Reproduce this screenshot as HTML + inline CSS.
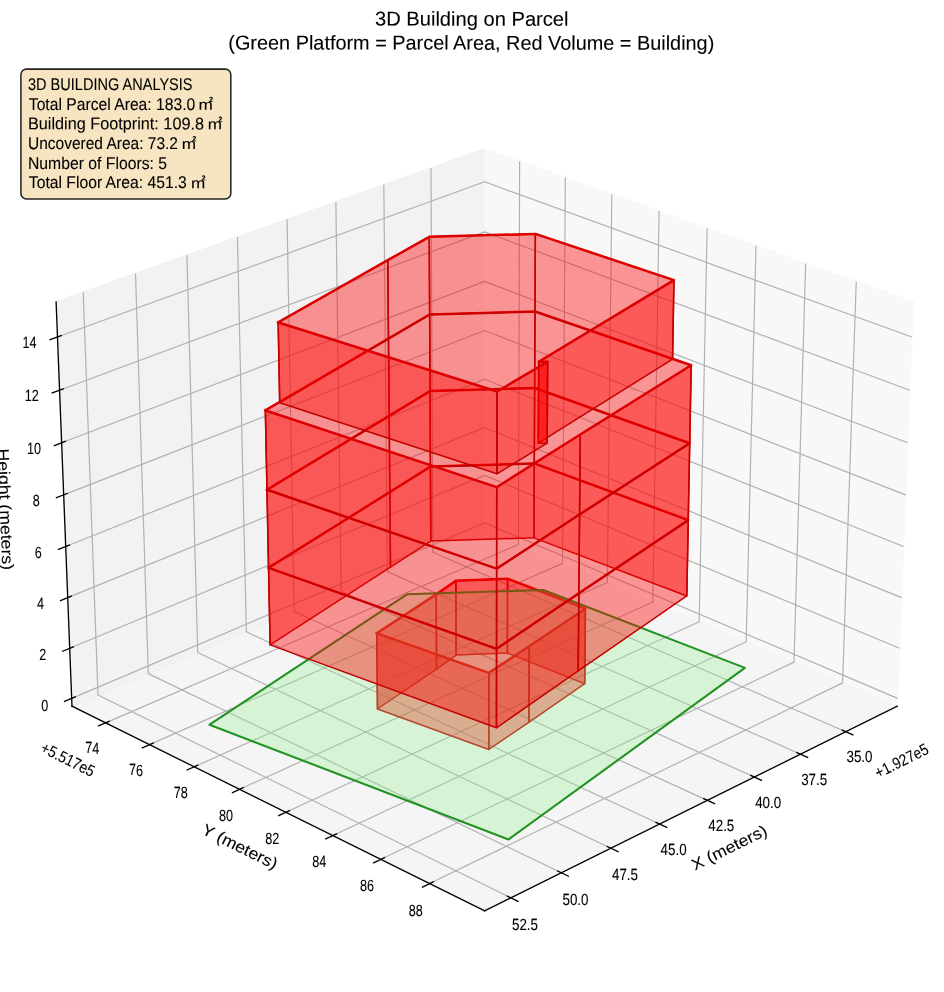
<!DOCTYPE html>
<html><head><meta charset="utf-8"><title>3D Building on Parcel</title>
<style>
html,body{margin:0;padding:0;background:#fff}
body{width:944px;height:992px;overflow:hidden;font-family:"Liberation Sans", sans-serif}
svg{display:block;position:absolute;left:0;top:0;will-change:transform}
text{font-family:"Liberation Sans", sans-serif;fill:#000;stroke:#000;stroke-width:0.1px}
</style></head><body>
<svg width="944" height="992" viewBox="0 0 944 992">
<g id="chart" transform="translate(-265.85,-85.65) scale(1.6666667)">
 <defs>
<style type="text/css">*{stroke-linejoin: round; stroke-linecap: butt}</style>
</defs>
<g id="figure_1">
<g id="pane3d_1">
<g id="patch_3">
<path d="M 450.291 369.473 L 697.885 475.112 L 707.407 232.527 L 450.291 140.621 " style="fill: #f2f2f2; opacity: 0.5; stroke: #f2f2f2; stroke-linejoin: miter"/>
</g>
</g>
<g id="pane3d_2">
<g id="patch_4">
<path d="M 450.291 369.473 L 202.698 475.112 L 193.175 232.527 L 450.291 140.621 " style="fill: #e6e6e6; opacity: 0.5; stroke: #e6e6e6; stroke-linejoin: miter"/>
</g>
</g>
<g id="pane3d_3">
<g id="patch_5">
<path d="M 450.291 369.473 L 202.698 475.112 L 450.291 597.851 L 697.885 475.112 " style="fill: #ececec; opacity: 0.5; stroke: #ececec; stroke-linejoin: miter"/>
</g>
</g>
<g id="grid3d_1">
<g id="Line3DCollection_1">
<path d="M 666.978 490.433 L 419.232 382.725 L 418.113 152.123 " style="fill: none; stroke: #b0b0b0; stroke-width: 0.7"/>
<path d="M 639.782 503.915 L 391.937 394.370 L 389.817 162.237 " style="fill: none; stroke: #b0b0b0; stroke-width: 0.7"/>
<path d="M 612.102 517.637 L 364.193 406.208 L 361.037 172.525 " style="fill: none; stroke: #b0b0b0; stroke-width: 0.7"/>
<path d="M 583.926 531.604 L 335.986 418.243 L 331.761 182.989 " style="fill: none; stroke: #b0b0b0; stroke-width: 0.7"/>
<path d="M 555.241 545.824 L 307.307 430.479 L 301.976 193.636 " style="fill: none; stroke: #b0b0b0; stroke-width: 0.7"/>
<path d="M 526.032 560.304 L 278.143 442.922 L 271.668 204.469 " style="fill: none; stroke: #b0b0b0; stroke-width: 0.7"/>
<path d="M 496.286 575.050 L 248.482 455.577 L 240.824 215.495 " style="fill: none; stroke: #b0b0b0; stroke-width: 0.7"/>
<path d="M 465.987 590.070 L 218.310 468.450 L 209.429 226.717 " style="fill: none; stroke: #b0b0b0; stroke-width: 0.7"/>
</g>
</g>
<g id="grid3d_2">
<g id="Line3DCollection_2">
<path d="M 471.293 148.128 L 470.564 378.123 L 222.866 485.110 " style="fill: none; stroke: #b0b0b0; stroke-width: 0.7"/>
<path d="M 498.717 157.931 L 497.025 389.412 L 249.218 498.173 " style="fill: none; stroke: #b0b0b0; stroke-width: 0.7"/>
<path d="M 526.597 167.896 L 523.909 400.883 L 276.025 511.462 " style="fill: none; stroke: #b0b0b0; stroke-width: 0.7"/>
<path d="M 554.944 178.029 L 551.228 412.539 L 303.299 524.982 " style="fill: none; stroke: #b0b0b0; stroke-width: 0.7"/>
<path d="M 583.771 188.333 L 578.993 424.385 L 331.051 538.740 " style="fill: none; stroke: #b0b0b0; stroke-width: 0.7"/>
<path d="M 613.089 198.813 L 607.213 436.426 L 359.296 552.742 " style="fill: none; stroke: #b0b0b0; stroke-width: 0.7"/>
<path d="M 642.911 209.472 L 635.901 448.666 L 388.046 566.994 " style="fill: none; stroke: #b0b0b0; stroke-width: 0.7"/>
<path d="M 673.250 220.317 L 665.069 461.110 L 417.314 581.503 " style="fill: none; stroke: #b0b0b0; stroke-width: 0.7"/>
</g>
</g>
<g id="grid3d_3">
<g id="Line3DCollection_3">
<path d="M 202.514 470.436 L 450.291 365.051 L 698.069 470.436 " style="fill: none; stroke: #b0b0b0; stroke-width: 0.7"/>
<path d="M 201.333 440.348 L 450.291 336.602 L 699.250 440.348 " style="fill: none; stroke: #b0b0b0; stroke-width: 0.7"/>
<path d="M 200.141 409.972 L 450.291 307.901 L 700.442 409.972 " style="fill: none; stroke: #b0b0b0; stroke-width: 0.7"/>
<path d="M 198.937 379.303 L 450.291 278.942 L 701.646 379.303 " style="fill: none; stroke: #b0b0b0; stroke-width: 0.7"/>
<path d="M 197.721 348.338 L 450.291 249.724 L 702.861 348.338 " style="fill: none; stroke: #b0b0b0; stroke-width: 0.7"/>
<path d="M 196.494 317.072 L 450.291 220.241 L 704.089 317.072 " style="fill: none; stroke: #b0b0b0; stroke-width: 0.7"/>
<path d="M 195.255 285.501 L 450.291 190.492 L 705.328 285.501 " style="fill: none; stroke: #b0b0b0; stroke-width: 0.7"/>
<path d="M 194.003 253.619 L 450.291 160.471 L 706.580 253.619 " style="fill: none; stroke: #b0b0b0; stroke-width: 0.7"/>
</g>
</g>
<g id="axis3d_1">
<g id="line2d_1">
<path d="M 697.885 475.112 L 450.291 597.851 " style="fill: none; stroke: #000000; stroke-width: 0.8; stroke-linecap: square"/>
</g>
<g id="xtick_1">
<g id="line2d_2">
<path d="M 664.848 489.507 L 671.247 492.289 " style="fill: none; stroke: #000000; stroke-width: 0.8; stroke-linecap: square"/>
</g>
</g>
<g id="xtick_2">
<g id="line2d_3">
<path d="M 637.649 502.973 L 644.055 505.804 " style="fill: none; stroke: #000000; stroke-width: 0.8; stroke-linecap: square"/>
</g>
</g>
<g id="xtick_3">
<g id="line2d_4">
<path d="M 609.967 516.677 L 616.379 519.559 " style="fill: none; stroke: #000000; stroke-width: 0.8; stroke-linecap: square"/>
</g>
</g>
<g id="xtick_4">
<g id="line2d_5">
<path d="M 581.790 530.628 L 588.207 533.561 " style="fill: none; stroke: #000000; stroke-width: 0.8; stroke-linecap: square"/>
</g>
</g>
<g id="xtick_5">
<g id="line2d_6">
<path d="M 553.103 544.830 L 559.524 547.817 " style="fill: none; stroke: #000000; stroke-width: 0.8; stroke-linecap: square"/>
</g>
</g>
<g id="xtick_6">
<g id="line2d_7">
<path d="M 523.894 559.291 L 530.318 562.333 " style="fill: none; stroke: #000000; stroke-width: 0.8; stroke-linecap: square"/>
</g>
</g>
<g id="xtick_7">
<g id="line2d_8">
<path d="M 494.147 574.019 L 500.573 577.117 " style="fill: none; stroke: #000000; stroke-width: 0.8; stroke-linecap: square"/>
</g>
</g>
<g id="xtick_8">
<g id="line2d_9">
<path d="M 463.847 589.020 L 470.274 592.176 " style="fill: none; stroke: #000000; stroke-width: 0.8; stroke-linecap: square"/>
</g>
</g>
</g>
<g id="axis3d_2">
<g id="line2d_10">
<path d="M 202.698 475.112 L 450.291 597.851 " style="fill: none; stroke: #000000; stroke-width: 0.8; stroke-linecap: square"/>
</g>
<g id="xtick_9">
<g id="line2d_11">
<path d="M 224.996 484.190 L 218.599 486.953 " style="fill: none; stroke: #000000; stroke-width: 0.8; stroke-linecap: square"/>
</g>
</g>
<g id="xtick_10">
<g id="line2d_12">
<path d="M 251.350 497.238 L 244.947 500.048 " style="fill: none; stroke: #000000; stroke-width: 0.8; stroke-linecap: square"/>
</g>
</g>
<g id="xtick_11">
<g id="line2d_13">
<path d="M 278.159 510.510 L 271.750 513.369 " style="fill: none; stroke: #000000; stroke-width: 0.8; stroke-linecap: square"/>
</g>
</g>
<g id="xtick_12">
<g id="line2d_14">
<path d="M 305.434 524.014 L 299.020 526.923 " style="fill: none; stroke: #000000; stroke-width: 0.8; stroke-linecap: square"/>
</g>
</g>
<g id="xtick_13">
<g id="line2d_15">
<path d="M 333.188 537.755 L 326.770 540.715 " style="fill: none; stroke: #000000; stroke-width: 0.8; stroke-linecap: square"/>
</g>
</g>
<g id="xtick_14">
<g id="line2d_16">
<path d="M 361.434 551.739 L 355.012 554.752 " style="fill: none; stroke: #000000; stroke-width: 0.8; stroke-linecap: square"/>
</g>
</g>
<g id="xtick_15">
<g id="line2d_17">
<path d="M 390.185 565.973 L 383.760 569.040 " style="fill: none; stroke: #000000; stroke-width: 0.8; stroke-linecap: square"/>
</g>
</g>
<g id="xtick_16">
<g id="line2d_18">
<path d="M 419.454 580.464 L 413.027 583.587 " style="fill: none; stroke: #000000; stroke-width: 0.8; stroke-linecap: square"/>
</g>
</g>
</g>
<g id="axis3d_3">
<g id="line2d_19">
<path d="M 202.698 475.112 L 193.175 232.527 " style="fill: none; stroke: #000000; stroke-width: 0.8; stroke-linecap: square"/>
</g>
<g id="xtick_17">
<g id="line2d_20">
<path d="M 204.644 469.530 L 198.247 472.251 " style="fill: none; stroke: #000000; stroke-width: 0.8; stroke-linecap: square"/>
</g>
</g>
<g id="xtick_18">
<g id="line2d_21">
<path d="M 203.473 439.456 L 197.045 442.135 " style="fill: none; stroke: #000000; stroke-width: 0.8; stroke-linecap: square"/>
</g>
</g>
<g id="xtick_19">
<g id="line2d_22">
<path d="M 202.292 409.094 L 195.830 411.731 " style="fill: none; stroke: #000000; stroke-width: 0.8; stroke-linecap: square"/>
</g>
</g>
<g id="xtick_20">
<g id="line2d_23">
<path d="M 201.099 378.440 L 194.604 381.033 " style="fill: none; stroke: #000000; stroke-width: 0.8; stroke-linecap: square"/>
</g>
</g>
<g id="xtick_21">
<g id="line2d_24">
<path d="M 199.895 347.490 L 193.366 350.039 " style="fill: none; stroke: #000000; stroke-width: 0.8; stroke-linecap: square"/>
</g>
</g>
<g id="xtick_22">
<g id="line2d_25">
<path d="M 198.679 316.239 L 192.116 318.742 " style="fill: none; stroke: #000000; stroke-width: 0.8; stroke-linecap: square"/>
</g>
</g>
<g id="xtick_23">
<g id="line2d_26">
<path d="M 197.451 284.683 L 190.854 287.140 " style="fill: none; stroke: #000000; stroke-width: 0.8; stroke-linecap: square"/>
</g>
</g>
<g id="xtick_24">
<g id="line2d_27">
<path d="M 196.211 252.817 L 189.579 255.227 " style="fill: none; stroke: #000000; stroke-width: 0.8; stroke-linecap: square"/>
</g>
</g>
</g>
<g id="axes_1">
<g id="Poly3DCollection_1">
<path d="M 433.163 444.419 L 463.955 443.206 L 464.051 398.595 L 433.042 399.780 z " clip-path="url(#p844c0593bd)" style="fill: #ff0000; fill-opacity: 0.4; stroke: #c40000; stroke-width: 0.9"/>
<path d="M 421.439 452.864 L 433.163 444.419 L 433.042 399.780 L 421.235 408.029 z " clip-path="url(#p844c0593bd)" style="fill: #ff0000; fill-opacity: 0.4; stroke: #c40000; stroke-width: 0.9"/>
<path d="M 463.955 443.206 L 510.328 461.632 L 510.756 416.595 L 464.051 398.595 z " clip-path="url(#p844c0593bd)" style="fill: #ff0000; fill-opacity: 0.4; stroke: #c40000; stroke-width: 0.9"/>
<path d="M 386.000 476.746 L 421.439 452.864 L 421.235 408.029 L 385.537 431.361 z " clip-path="url(#p844c0593bd)" style="fill: #ff0000; fill-opacity: 0.4; stroke: #c40000; stroke-width: 0.9"/>
<path d="M 510.328 461.632 L 476.815 484.747 L 477.007 439.179 L 510.756 416.595 z " clip-path="url(#p844c0593bd)" style="fill: #ff0000; fill-opacity: 0.4; stroke: #c40000; stroke-width: 0.9"/>
<path d="M 452.784 501.078 L 386.000 476.746 L 385.537 431.361 L 452.802 455.139 z " clip-path="url(#p844c0593bd)" style="fill: #ff0000; fill-opacity: 0.4; stroke: #c40000; stroke-width: 0.9"/>
<path d="M 476.815 484.747 L 452.784 501.078 L 452.802 455.139 L 477.007 439.179 z " clip-path="url(#p844c0593bd)" style="fill: #ff0000; fill-opacity: 0.4; stroke: #c40000; stroke-width: 0.9"/>
</g>
<g id="line2d_28">
<path d="M 385.537 431.361 L 421.235 408.029 L 433.042 399.780 L 464.051 398.595 L 510.756 416.595 L 477.007 439.179 L 452.802 455.139 L 385.537 431.361 " clip-path="url(#p844c0593bd)" style="fill: none; stroke: #de0000; stroke-width: 1.5; stroke-linecap: square"/>
</g>
<g id="Poly3DCollection_2">
<defs>
<path id="mfeddde1644" d="M 285.216 -233.788 L 403.645 -312.031 L 485.554 -314.607 L 606.452 -267.873 L 464.607 -164.912 z " style="stroke: #229322; stroke-width: 1.25"/>
</defs>
<g clip-path="url(#p844c0593bd)">
<use href="#mfeddde1644" x="0" y="720" style="fill: #90ee90; fill-opacity: 0.3; stroke: #229322; stroke-width: 1.25"/>
</g>
</g>
<g id="Poly3DCollection_3">
<path d="M 417.986 376.041 L 479.888 374.097 L 480.094 329.458 L 417.760 331.354 z " clip-path="url(#p844c0593bd)" style="fill: #ff0000; fill-opacity: 0.4; stroke: #c40000; stroke-width: 0.9"/>
<path d="M 393.806 391.701 L 417.986 376.041 L 417.760 331.354 L 393.408 346.627 z " clip-path="url(#p844c0593bd)" style="fill: #ff0000; fill-opacity: 0.4; stroke: #c40000; stroke-width: 0.9"/>
<path d="M 479.888 374.097 L 571.594 408.975 L 572.460 363.477 L 480.094 329.458 z " clip-path="url(#p844c0593bd)" style="fill: #ff0000; fill-opacity: 0.4; stroke: #c40000; stroke-width: 0.9"/>
<path d="M 321.579 438.312 L 393.806 391.701 L 393.408 346.627 L 320.642 392.101 z " clip-path="url(#p844c0593bd)" style="fill: #ff0000; fill-opacity: 0.4; stroke: #c40000; stroke-width: 0.9"/>
<path d="M 571.594 408.975 L 506.414 453.951 L 506.827 407.363 L 572.460 363.477 z " clip-path="url(#p844c0593bd)" style="fill: #ff0000; fill-opacity: 0.4; stroke: #c40000; stroke-width: 0.9"/>
<path d="M 457.389 488.081 L 321.579 438.312 L 320.642 392.101 L 457.443 440.679 z " clip-path="url(#p844c0593bd)" style="fill: #ff0000; fill-opacity: 0.4; stroke: #c40000; stroke-width: 0.9"/>
<path d="M 506.414 453.951 L 457.389 488.081 L 457.443 440.679 L 506.827 407.363 z " clip-path="url(#p844c0593bd)" style="fill: #ff0000; fill-opacity: 0.4; stroke: #c40000; stroke-width: 0.9"/>
</g>
<g id="line2d_29">
<path d="M 320.642 392.101 L 393.408 346.627 L 417.760 331.354 L 480.094 329.458 L 572.460 363.477 L 506.827 407.363 L 457.443 440.679 L 320.642 392.101 " clip-path="url(#p844c0593bd)" style="fill: none; stroke: #de0000; stroke-width: 1.5; stroke-linecap: square"/>
</g>
<g id="Poly3DCollection_4">
<path d="M 417.760 331.354 L 480.094 329.458 L 480.303 284.193 L 417.532 286.039 z " clip-path="url(#p844c0593bd)" style="fill: #ff0000; fill-opacity: 0.4; stroke: #c40000; stroke-width: 0.9"/>
<path d="M 393.408 346.627 L 417.760 331.354 L 417.532 286.039 L 393.004 300.913 z " clip-path="url(#p844c0593bd)" style="fill: #ff0000; fill-opacity: 0.4; stroke: #c40000; stroke-width: 0.9"/>
<path d="M 480.094 329.458 L 572.460 363.477 L 573.339 317.326 L 480.303 284.193 z " clip-path="url(#p844c0593bd)" style="fill: #ff0000; fill-opacity: 0.4; stroke: #c40000; stroke-width: 0.9"/>
<path d="M 320.642 392.101 L 393.408 346.627 L 393.004 300.913 L 319.691 345.212 z " clip-path="url(#p844c0593bd)" style="fill: #ff0000; fill-opacity: 0.4; stroke: #c40000; stroke-width: 0.9"/>
<path d="M 572.460 363.477 L 506.827 407.363 L 507.246 360.085 L 573.339 317.326 z " clip-path="url(#p844c0593bd)" style="fill: #ff0000; fill-opacity: 0.4; stroke: #c40000; stroke-width: 0.9"/>
<path d="M 457.443 440.679 L 320.642 392.101 L 319.691 345.212 L 457.497 392.558 z " clip-path="url(#p844c0593bd)" style="fill: #ff0000; fill-opacity: 0.4; stroke: #c40000; stroke-width: 0.9"/>
<path d="M 506.827 407.363 L 457.443 440.679 L 457.497 392.558 L 507.246 360.085 z " clip-path="url(#p844c0593bd)" style="fill: #ff0000; fill-opacity: 0.4; stroke: #c40000; stroke-width: 0.9"/>
</g>
<g id="line2d_30">
<path d="M 319.691 345.212 L 393.004 300.913 L 417.532 286.039 L 480.303 284.193 L 573.339 317.326 L 507.246 360.085 L 457.497 392.558 L 319.691 345.212 " clip-path="url(#p844c0593bd)" style="fill: none; stroke: #de0000; stroke-width: 1.5; stroke-linecap: square"/>
</g>
<g id="Poly3DCollection_5">
<path d="M 417.532 286.039 L 480.303 284.193 L 480.515 238.289 L 417.300 240.084 z " clip-path="url(#p844c0593bd)" style="fill: #ff0000; fill-opacity: 0.4; stroke: #c40000; stroke-width: 0.9"/>
<path d="M 393.004 300.913 L 417.532 286.039 L 417.300 240.084 L 392.594 254.545 z " clip-path="url(#p844c0593bd)" style="fill: #ff0000; fill-opacity: 0.4; stroke: #c40000; stroke-width: 0.9"/>
<path d="M 480.303 284.193 L 573.339 317.326 L 574.230 270.506 L 480.515 238.289 z " clip-path="url(#p844c0593bd)" style="fill: #ff0000; fill-opacity: 0.4; stroke: #c40000; stroke-width: 0.9"/>
<path d="M 319.691 345.212 L 393.004 300.913 L 392.594 254.545 L 318.725 297.630 z " clip-path="url(#p844c0593bd)" style="fill: #ff0000; fill-opacity: 0.4; stroke: #c40000; stroke-width: 0.9"/>
<path d="M 573.339 317.326 L 507.246 360.085 L 507.672 312.100 L 574.230 270.506 z " clip-path="url(#p844c0593bd)" style="fill: #ff0000; fill-opacity: 0.4; stroke: #c40000; stroke-width: 0.9"/>
<path d="M 457.497 392.558 L 319.691 345.212 L 318.725 297.630 L 457.552 343.700 z " clip-path="url(#p844c0593bd)" style="fill: #ff0000; fill-opacity: 0.4; stroke: #c40000; stroke-width: 0.9"/>
<path d="M 507.246 360.085 L 457.497 392.558 L 457.552 343.700 L 507.672 312.100 z " clip-path="url(#p844c0593bd)" style="fill: #ff0000; fill-opacity: 0.4; stroke: #c40000; stroke-width: 0.9"/>
</g>
<g id="line2d_31">
<path d="M 318.725 297.630 L 392.594 254.545 L 417.300 240.084 L 480.515 238.289 L 574.230 270.506 L 507.672 312.100 L 457.552 343.700 L 318.725 297.630 " clip-path="url(#p844c0593bd)" style="fill: none; stroke: #de0000; stroke-width: 1.5; stroke-linecap: square"/>
</g>
<g id="Poly3DCollection_6">
<path d="M 417.300 240.084 L 480.515 238.289 L 480.730 191.732 L 417.065 193.473 z " clip-path="url(#p844c0593bd)" style="fill: #ff0000; fill-opacity: 0.4; stroke: #c40000; stroke-width: 0.9"/>
<path d="M 392.594 254.545 L 417.300 240.084 L 417.065 193.473 L 392.178 207.509 z " clip-path="url(#p844c0593bd)" style="fill: #ff0000; fill-opacity: 0.4; stroke: #c40000; stroke-width: 0.9"/>
<path d="M 480.515 238.289 L 563.047 266.877 L 563.867 219.480 L 480.730 191.732 z " clip-path="url(#p844c0593bd)" style="fill: #ff0000; fill-opacity: 0.4; stroke: #c40000; stroke-width: 0.9"/>
<path d="M 327.334 292.995 L 392.594 254.545 L 392.178 207.509 L 326.421 244.839 z " clip-path="url(#p844c0593bd)" style="fill: #ff0000; fill-opacity: 0.4; stroke: #c40000; stroke-width: 0.9"/>
<path d="M 563.047 266.877 L 482.488 317.287 L 482.731 268.431 L 563.867 219.480 z " clip-path="url(#p844c0593bd)" style="fill: #ff0000; fill-opacity: 0.4; stroke: #c40000; stroke-width: 0.9"/>
<path d="M 457.689 335.662 L 327.334 292.995 L 326.421 244.839 L 457.746 286.281 z " clip-path="url(#p844c0593bd)" style="fill: #ff0000; fill-opacity: 0.4; stroke: #c40000; stroke-width: 0.9"/>
<path d="M 482.488 317.287 L 487.812 317.286 L 488.095 268.430 L 482.731 268.431 z " clip-path="url(#p844c0593bd)" style="fill: #ff0000; fill-opacity: 0.4; stroke: #c40000; stroke-width: 0.9"/>
<path d="M 487.812 317.286 L 457.689 335.662 L 457.746 286.281 L 488.095 268.430 z " clip-path="url(#p844c0593bd)" style="fill: #ff0000; fill-opacity: 0.4; stroke: #c40000; stroke-width: 0.9"/>
</g>
<g id="line2d_32">
<path d="M 326.421 244.839 L 392.178 207.509 L 417.065 193.473 L 480.730 191.732 L 563.867 219.480 L 482.731 268.431 L 488.095 268.430 L 457.746 286.281 L 326.421 244.839 " clip-path="url(#p844c0593bd)" style="fill: none; stroke: #de0000; stroke-width: 1.5; stroke-linecap: square"/>
</g>
</g>
</g>
<defs>
<clipPath id="p844c0593bd">
<rect x="165.6" y="86.4" width="554.4" height="554.4"/>
</clipPath>
</defs> 
</g>
<rect x="20.9" y="69.1" width="209.9" height="129.8" rx="5.5" ry="5.5" fill="#f5deb3" fill-opacity="0.8" stroke="#000" stroke-opacity="0.85" stroke-width="1.55"/>
<g id="labels">
<text x="375.0" y="25.6" font-size="20" textLength="193.5" lengthAdjust="spacingAndGlyphs" transform="rotate(0.03 375.0 25.6)">3D Building on Parcel</text>
<text x="228.3" y="49.5" font-size="20" textLength="486.0" lengthAdjust="spacingAndGlyphs" transform="rotate(0.03 228.3 49.5)">(Green Platform = Parcel Area, Red Volume = Building)</text>
<text x="28.0" y="90.0" font-size="17.0" textLength="164.5" lengthAdjust="spacingAndGlyphs" transform="rotate(0.03 28.0 90.0)">3D BUILDING ANALYSIS</text>
<text x="28.8" y="109.7" font-size="17.0" textLength="166.5" lengthAdjust="spacingAndGlyphs" transform="rotate(0.03 28.8 109.7)">Total Parcel Area: 183.0</text>
<text x="198.5" y="109.7" font-size="14.8" textLength="14.3" lengthAdjust="spacingAndGlyphs" transform="rotate(0.03 198.5 109.7)">m</text>
<text x="209.0" y="102.1" font-size="7.4" font-weight="bold" transform="rotate(0.03 209.0 102.1)">2</text>
<text x="28.0" y="129.3" font-size="17.0" textLength="176.0" lengthAdjust="spacingAndGlyphs" transform="rotate(0.03 28.0 129.3)">Building Footprint: 109.8</text>
<text x="207.8" y="129.3" font-size="14.8" textLength="14.3" lengthAdjust="spacingAndGlyphs" transform="rotate(0.03 207.8 129.3)">m</text>
<text x="218.3" y="121.7" font-size="7.4" font-weight="bold" transform="rotate(0.03 218.3 121.7)">2</text>
<text x="28.0" y="148.9" font-size="17.0" textLength="150.0" lengthAdjust="spacingAndGlyphs" transform="rotate(0.03 28.0 148.9)">Uncovered Area: 73.2</text>
<text x="181.7" y="148.9" font-size="14.8" textLength="14.3" lengthAdjust="spacingAndGlyphs" transform="rotate(0.03 181.7 148.9)">m</text>
<text x="192.2" y="141.3" font-size="7.4" font-weight="bold" transform="rotate(0.03 192.2 141.3)">2</text>
<text x="28.0" y="168.6" font-size="17.0" textLength="139.0" lengthAdjust="spacingAndGlyphs" transform="rotate(0.03 28.0 168.6)">Number of Floors: 5</text>
<text x="28.8" y="188.2" font-size="17.0" textLength="158.0" lengthAdjust="spacingAndGlyphs" transform="rotate(0.03 28.8 188.2)">Total Floor Area: 451.3</text>
<text x="190.9" y="188.2" font-size="14.8" textLength="14.3" lengthAdjust="spacingAndGlyphs" transform="rotate(0.03 190.9 188.2)">m</text>
<text x="201.4" y="180.6" font-size="7.4" font-weight="bold" transform="rotate(0.03 201.4 180.6)">2</text>
<text x="731.7" y="852.5" font-size="16.2" text-anchor="middle" textLength="82.0" lengthAdjust="spacingAndGlyphs" transform="rotate(-26.37 731.7 852.5)">X (meters)</text>
<text x="237.5" y="851.5" font-size="16.2" text-anchor="middle" textLength="82.0" lengthAdjust="spacingAndGlyphs" transform="rotate(26.37 237.5 851.5)">Y (meters)</text>
<text x="0.0" y="509.5" font-size="16.2" text-anchor="middle" textLength="121.5" lengthAdjust="spacingAndGlyphs" transform="rotate(87.75 0.0 509.5)">Height (meters)</text>
<text x="904.1" y="765.7" font-size="16.2" text-anchor="middle" textLength="57.5" lengthAdjust="spacingAndGlyphs" transform="rotate(-26.37 904.1 765.7)">+1.927e5</text>
<text x="65.5" y="764.4" font-size="16.2" text-anchor="middle" textLength="58.0" lengthAdjust="spacingAndGlyphs" transform="rotate(26.37 65.5 764.4)">+5.517e5</text>
<text x="859.5" y="762.1" font-size="16.2" text-anchor="middle" textLength="26.0" lengthAdjust="spacingAndGlyphs" transform="rotate(0.03 859.5 762.1)">35.0</text>
<text x="814.2" y="784.8" font-size="16.2" text-anchor="middle" textLength="26.0" lengthAdjust="spacingAndGlyphs" transform="rotate(0.03 814.2 784.8)">37.5</text>
<text x="768.2" y="807.9" font-size="16.2" text-anchor="middle" textLength="26.0" lengthAdjust="spacingAndGlyphs" transform="rotate(0.03 768.2 807.9)">40.0</text>
<text x="721.3" y="831.4" font-size="16.2" text-anchor="middle" textLength="26.0" lengthAdjust="spacingAndGlyphs" transform="rotate(0.03 721.3 831.4)">42.5</text>
<text x="673.6" y="855.4" font-size="16.2" text-anchor="middle" textLength="26.0" lengthAdjust="spacingAndGlyphs" transform="rotate(0.03 673.6 855.4)">45.0</text>
<text x="625.0" y="879.8" font-size="16.2" text-anchor="middle" textLength="26.0" lengthAdjust="spacingAndGlyphs" transform="rotate(0.03 625.0 879.8)">47.5</text>
<text x="575.5" y="904.6" font-size="16.2" text-anchor="middle" textLength="26.0" lengthAdjust="spacingAndGlyphs" transform="rotate(0.03 575.5 904.6)">50.0</text>
<text x="525.0" y="929.9" font-size="16.2" text-anchor="middle" textLength="26.0" lengthAdjust="spacingAndGlyphs" transform="rotate(0.03 525.0 929.9)">52.5</text>
<text x="92.3" y="753.5" font-size="16.2" text-anchor="middle" textLength="14.0" lengthAdjust="spacingAndGlyphs" transform="rotate(0.03 92.3 753.5)">74</text>
<text x="136.1" y="775.5" font-size="16.2" text-anchor="middle" textLength="14.0" lengthAdjust="spacingAndGlyphs" transform="rotate(0.03 136.1 775.5)">76</text>
<text x="180.7" y="797.9" font-size="16.2" text-anchor="middle" textLength="14.0" lengthAdjust="spacingAndGlyphs" transform="rotate(0.03 180.7 797.9)">78</text>
<text x="226.1" y="820.7" font-size="16.2" text-anchor="middle" textLength="14.0" lengthAdjust="spacingAndGlyphs" transform="rotate(0.03 226.1 820.7)">80</text>
<text x="272.2" y="843.8" font-size="16.2" text-anchor="middle" textLength="14.0" lengthAdjust="spacingAndGlyphs" transform="rotate(0.03 272.2 843.8)">82</text>
<text x="319.2" y="867.4" font-size="16.2" text-anchor="middle" textLength="14.0" lengthAdjust="spacingAndGlyphs" transform="rotate(0.03 319.2 867.4)">84</text>
<text x="367.1" y="891.4" font-size="16.2" text-anchor="middle" textLength="14.0" lengthAdjust="spacingAndGlyphs" transform="rotate(0.03 367.1 891.4)">86</text>
<text x="415.8" y="915.9" font-size="16.2" text-anchor="middle" textLength="14.0" lengthAdjust="spacingAndGlyphs" transform="rotate(0.03 415.8 915.9)">88</text>
<text x="44.8" y="710.6" font-size="16.2" text-anchor="middle" textLength="7.0" lengthAdjust="spacingAndGlyphs" transform="rotate(0.03 44.8 710.6)">0</text>
<text x="42.7" y="660.3" font-size="16.2" text-anchor="middle" textLength="7.0" lengthAdjust="spacingAndGlyphs" transform="rotate(0.03 42.7 660.3)">2</text>
<text x="40.5" y="609.4" font-size="16.2" text-anchor="middle" textLength="7.0" lengthAdjust="spacingAndGlyphs" transform="rotate(0.03 40.5 609.4)">4</text>
<text x="38.3" y="558.1" font-size="16.2" text-anchor="middle" textLength="7.0" lengthAdjust="spacingAndGlyphs" transform="rotate(0.03 38.3 558.1)">6</text>
<text x="36.2" y="506.3" font-size="16.2" text-anchor="middle" textLength="7.0" lengthAdjust="spacingAndGlyphs" transform="rotate(0.03 36.2 506.3)">8</text>
<text x="33.9" y="454.1" font-size="16.2" text-anchor="middle" textLength="14.0" lengthAdjust="spacingAndGlyphs" transform="rotate(0.03 33.9 454.1)">10</text>
<text x="31.7" y="401.2" font-size="16.2" text-anchor="middle" textLength="14.0" lengthAdjust="spacingAndGlyphs" transform="rotate(0.03 31.7 401.2)">12</text>
<text x="29.5" y="347.9" font-size="16.2" text-anchor="middle" textLength="14.0" lengthAdjust="spacingAndGlyphs" transform="rotate(0.03 29.5 347.9)">14</text>
</g>
</svg>
</body></html>
